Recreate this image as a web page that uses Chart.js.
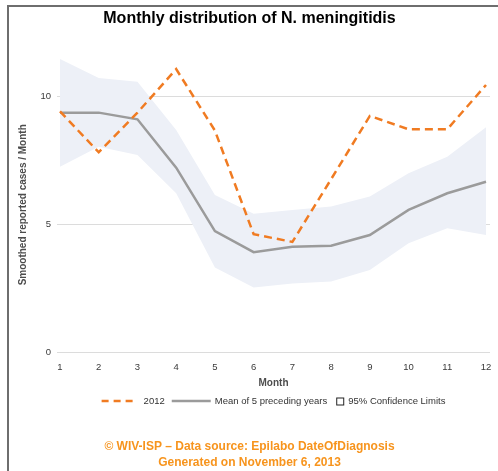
<!DOCTYPE html>
<html><head><meta charset="utf-8">
<script src="https://cdn.jsdelivr.net/npm/chart.js@4.4.1/dist/chart.umd.min.js"></script>
<style>
html,body{margin:0;padding:0;background:#fff;overflow:hidden;width:498px;height:471px;}
#frame{position:absolute;left:7px;top:5px;width:492px;height:470px;border-left:2px solid #6e6e6e;border-top:2px solid #6e6e6e;border-right:2px solid #6e6e6e;}
#wrap{position:absolute;left:0;top:0;width:492px;height:464px;}
</style></head><body>
<div id="frame"><div id="wrap"><canvas id="c" width="492" height="464"></canvas></div></div>
<script>
// ---- data ----
const months = [1,2,3,4,5,6,7,8,9,10,11,12];
const monthLabels = ['1','2','3','4','5','6','7','8','9','10','11','12'];
const cases2012 = [9.4, 7.8, 9.35, 11.05, 8.65, 4.6, 4.3, 6.75, 9.22, 8.7, 8.7, 10.43];
const mean5yr   = [9.35, 9.35, 9.09, 7.2, 4.72, 3.9, 4.11, 4.15, 4.57, 5.55, 6.2, 6.65];
const ciUpper   = [11.45, 10.7, 10.56, 8.67, 6.13, 5.4, 5.55, 5.68, 6.07, 6.98, 7.63, 8.78];
const ciLower   = [7.24, 8.02, 7.7, 6.2, 3.3, 2.52, 2.68, 2.75, 3.2, 4.25, 4.83, 4.57];
const yTicks = [0, 5, 10];
const seriesNames = ['2012', 'Mean of 5 preceding years', '95% Confidence Limits'];
const titleText = 'Monthly distribution of N. meningitidis';
const yTitle = 'Smoothed reported cases / Month';
const xTitle = 'Month';
const footerLines = ['\u00A9 WIV-ISP \u2013 Data source: Epilabo DateOfDiagnosis', 'Generated on November 6, 2013'];

Chart.defaults.font.family = '"Liberation Sans", Arial, Helvetica, sans-serif';

const legendPlugin = {
  id: 'customLegend',
  afterDraw(chart) {
    const ctx = chart.ctx, ca = chart.chartArea, ds = chart.data.datasets;
    ctx.save();
    ctx.font = '9.5px "Liberation Sans", Arial, sans-serif';
    const w = seriesNames.map(t => ctx.measureText(t).width);
    const sw = [32, 39, 7], g1 = [10, 4, 5], g2 = [7, 9];
    let total = 0;
    for (let i = 0; i < 3; i++) { total += sw[i] + g1[i] + w[i]; if (i < 2) total += g2[i]; }
    let x = (ca.left + ca.right) / 2 - total / 2;
    const y = ca.bottom + 49;
    ctx.textBaseline = 'middle';
    for (let i = 0; i < 3; i++) {
      if (i < 2) {
        const d = ds[i];
        ctx.beginPath();
        ctx.strokeStyle = d.borderColor;
        ctx.lineWidth = d.borderWidth;
        ctx.setLineDash(d.borderDash ? [7, 5] : []);
        ctx.moveTo(x, y); ctx.lineTo(x + sw[i], y);
        ctx.stroke();
        ctx.setLineDash([]);
      } else {
        ctx.fillStyle = '#fff';
        ctx.fillRect(x + 0.5, y - 3, 7, 7);
        ctx.strokeStyle = '#222';
        ctx.lineWidth = 1;
        ctx.strokeRect(x + 0.5, y - 3, 7, 7);
      }
      x += sw[i] + g1[i];
      ctx.fillStyle = '#333';
      ctx.fillText(seriesNames[i], x, y);
      x += w[i];
      if (i < 2) x += g2[i];
    }
    ctx.restore();
  }
};

new Chart(document.getElementById('c'), {
  type: 'line',
  data: {
    labels: months,
    datasets: [
      { label: seriesNames[0], data: cases2012, borderColor: '#F07B22', borderWidth: 2.5, borderDash: [8, 5], pointRadius: 0, fill: false, tension: 0 },
      { label: seriesNames[1], data: mean5yr, borderColor: '#9b9b9b', borderWidth: 2.5, pointRadius: 0, fill: false, tension: 0 },
      { label: seriesNames[2], data: ciUpper, borderWidth: 0, borderColor: 'rgba(0,0,0,0)', backgroundColor: '#EDF0F7', pointRadius: 0, fill: '+1', tension: 0 },
      { label: 'lower', data: ciLower, borderWidth: 0, borderColor: 'rgba(0,0,0,0)', pointRadius: 0, fill: false, tension: 0 }
    ]
  },
  options: {
    responsive: false,
    animation: false,
    layout: { padding: { left: 0, right: 11, top: 0, bottom: 0 } },
    plugins: {
      legend: { display: false },
      tooltip: { enabled: false },
      title: { display: true, text: titleText, color: '#000', font: { size: 16, weight: 'bold' }, padding: { top: 2.4, bottom: 29 } },
      subtitle: { display: true, position: 'bottom', text: footerLines, color: '#F7941D', font: { size: 12, weight: 'bold', lineHeight: 1.3333 }, padding: { top: 0, bottom: 0 } }
    },
    scales: {
      x: {
        type: 'linear', min: 0.9225, max: 12.103,
        grid: { display: false, drawTicks: false },
        border: { display: false },
        ticks: { stepSize: 1, includeBounds: false, autoSkip: false, maxRotation: 0, padding: 9.5, color: '#3a3a3a', font: { size: 9.5 },
          callback: (v) => monthLabels[months.indexOf(v)] },
        title: { display: true, text: xTitle, color: '#4d4d4d', font: { size: 10, weight: 'bold' }, padding: { top: 4, bottom: 50 } },
        afterFit: (s) => { s.height = 87; }
      },
      y: {
        min: 0, max: 11.5,
        grid: { color: '#dcdcdc', lineWidth: 1, drawTicks: false },
        border: { display: false },
        afterBuildTicks: (s) => { s.ticks = yTicks.map(v => ({ value: v })); },
        ticks: { padding: 6, color: '#3a3a3a', font: { size: 9.5 } },
        title: { display: true, text: yTitle, color: '#4d4d4d', font: { size: 10, weight: 'bold' }, padding: { top: 8.5, bottom: 0 } },
        afterFit: (s) => { s.width = 48; }
      }
    }
  },
  plugins: [legendPlugin]
});
</script>
</body></html>
